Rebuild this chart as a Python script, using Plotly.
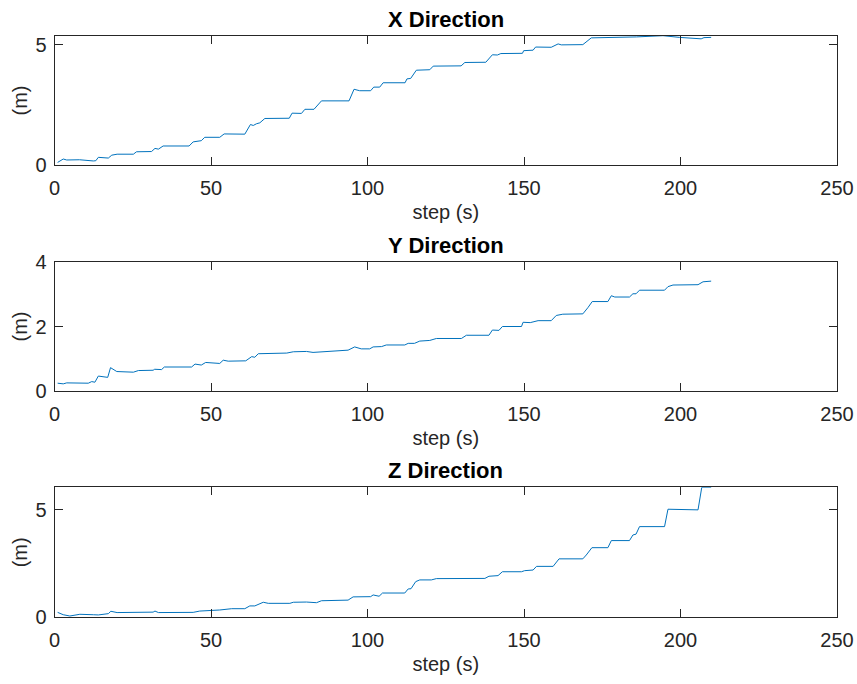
import plotly.graph_objects as go

# ---- data (step index vs. position in metres) ----
x_steps = [1, 2.8, 3.9, 8, 12.4, 13.2, 14, 17.2, 18.3, 20, 25.2, 26.2, 31, 32.1, 33.2, 34.7,
           43, 44.3, 46.9, 48, 52.8, 54.2, 60.8, 62.6, 63.5, 64.5, 65.6, 67.2, 75, 75.9, 78.9,
           80, 82.9, 85.3, 94.1, 95.7, 97.5, 101, 102, 103.9, 105, 112, 112.6, 113.8, 115.6,
           119.9, 121, 129.9, 131.1, 137.8, 139.9, 141.5, 142.6, 149.5, 149.9, 152.9, 153.7,
           158.7, 160.9, 161.9, 168.8, 171.5, 185.9, 194.4, 199.7, 206.6, 207.5, 209.8]
x_vals = [0.12, 0.26, 0.22, 0.23, 0.18, 0.19, 0.33, 0.30, 0.42, 0.46, 0.46, 0.56, 0.57, 0.70, 0.67, 0.80,
          0.80, 0.97, 1.02, 1.16, 1.16, 1.30, 1.29, 1.69, 1.65, 1.72, 1.76, 1.94, 1.95, 2.16, 2.15,
          2.32, 2.32, 2.67, 2.67, 3.15, 3.09, 3.09, 3.24, 3.24, 3.42, 3.42, 3.58, 3.60, 3.94,
          3.96, 4.11, 4.12, 4.26, 4.27, 4.58, 4.57, 4.63, 4.64, 4.75, 4.77, 4.90,
          4.89, 5.03, 4.99, 5.00, 5.28, 5.32, 5.37, 5.30, 5.24, 5.29, 5.30]

y_steps = [1, 2.8, 3.9, 10.8, 11.9, 12.9, 14, 17, 17.9, 19.9, 25.2, 26.8, 31.5, 32, 34.2, 35.1,
           43.8, 44.9, 46.9, 48.3, 52.8, 53.9, 55.5, 61.1, 63, 64, 65.1, 74.2, 76.3, 80.5, 82.6,
           86.8, 93.8, 95.9, 98, 100.7, 101.8, 104.5, 106, 111.9, 113, 115, 116.7, 119.9, 122,
           130, 131.6, 138.8, 139.9, 142, 143.1, 149.2, 149.7, 152, 154.5, 158.7, 160.3, 162.4,
           168.8, 170.4, 171.8, 176.8, 177.9, 179, 183.7, 184.8, 185.8, 186.9, 194.9, 196,
           197.6, 205.6, 207.2, 209.8]
y_vals = [0.25, 0.23, 0.26, 0.25, 0.30, 0.28, 0.47, 0.43, 0.73, 0.61, 0.59, 0.64, 0.65, 0.68, 0.67, 0.75,
          0.75, 0.84, 0.81, 0.89, 0.86, 0.96, 0.93, 0.94, 1.07, 1.05, 1.16, 1.18, 1.22, 1.23, 1.20,
          1.23, 1.27, 1.37, 1.31, 1.31, 1.37, 1.38, 1.43, 1.43, 1.48, 1.48, 1.55, 1.57, 1.63,
          1.63, 1.73, 1.73, 1.89, 1.88, 2.00, 2.00, 2.13, 2.12, 2.18, 2.18, 2.34, 2.38,
          2.39, 2.58, 2.77, 2.77, 2.95, 2.91, 2.91, 3.01, 3.01, 3.12, 3.12, 3.23,
          3.28, 3.29, 3.38, 3.40]

z_steps = [1, 2.8, 4.9, 8.1, 12.4, 14, 17.2, 18, 20, 31.5, 32.1, 33.2, 44.3, 46.4, 52.8, 56.6,
           60.8, 62.4, 64, 65.1, 66.7, 68.3, 75.2, 76.3, 80.5, 83.7, 85.3, 93.8, 95.4, 101,
           101.8, 103.7, 104.8, 111.9, 113, 113.9, 115.4, 116.7, 120.4, 122, 137.5, 138.8,
           141.7, 143.1, 149.2, 150.2, 152.9, 154, 159.3, 161.2, 168.8, 169.9, 171.7, 176.8,
           177.9, 183.7, 184.8, 185.8, 186.9, 194.9, 196, 205.6, 206.8, 209.8]
z_vals = [0.23, 0.12, 0.06, 0.14, 0.12, 0.11, 0.17, 0.28, 0.22, 0.24, 0.29, 0.22, 0.23, 0.29, 0.34, 0.40,
          0.40, 0.53, 0.53, 0.60, 0.70, 0.65, 0.65, 0.70, 0.71, 0.68, 0.77, 0.80, 0.95, 0.96,
          1.04, 0.98, 1.13, 1.13, 1.32, 1.33, 1.66, 1.74, 1.74, 1.80, 1.81, 1.91,
          1.94, 2.12, 2.12, 2.17, 2.20, 2.37, 2.37, 2.72, 2.72, 2.90, 3.24, 3.24,
          3.57, 3.57, 3.83, 3.87, 4.22, 4.22, 5.03, 5.00, 6.05, 6.05]

titles = ["X Direction", "Y Direction", "Z Direction"]
x_ticks = [0, 50, 100, 150, 200, 250]
y_ticks = [[0, 5], [0, 2, 4], [0, 5]]
y_ranges = [[0, 5.37], [0, 4], [0, 6.05]]
x_label = "step (s)"
y_label = "(m)"

# ---- layout geometry ----
W, H = 857, 684
x_dom = [54.5 / W, 837 / W]
tops = [35.7, 261.7, 487.3]
bots = [165.3, 391.3, 617.3]
y_doms = [[1 - b / H, 1 - t / H] for t, b in zip(tops, bots)]

FONT = "Liberation Sans, Arial, Helvetica, sans-serif"
AXC = "#262626"
LINEC = "rgb(0,114,189)"

fig = go.Figure()
series = [(x_steps, x_vals), (y_steps, y_vals), (z_steps, z_vals)]
annotations = []
for i, (sx, sv) in enumerate(series):
    n = "" if i == 0 else str(i + 1)
    fig.add_trace(go.Scatter(x=sx, y=sv, mode="lines",
                             line=dict(color=LINEC, width=1),
                             xaxis="x" + n, yaxis="y" + n, showlegend=False))
    common = dict(showline=True, linecolor=AXC, linewidth=1, mirror="ticks",
                  ticks="inside", ticklen=8, tickwidth=1, tickcolor=AXC,
                  showgrid=False, zeroline=False, automargin=False,
                  tickfont=dict(family=FONT, size=20, color=AXC))
    fig.layout["xaxis" + n] = dict(domain=x_dom, range=[0, 250], tickvals=x_ticks,
                                   anchor="y" + n, ticklabelstandoff=5,
                                   title=dict(text=x_label, font=dict(family=FONT, size=20, color=AXC),
                                              standoff=6),
                                   **common)
    fig.layout["yaxis" + n] = dict(domain=y_doms[i], range=y_ranges[i], tickvals=y_ticks[i],
                                   anchor="x" + n, ticklabelstandoff=3,
                                   title=dict(text=y_label, font=dict(family=FONT, size=20, color=AXC),
                                              standoff=2),
                                   **common)
    annotations.append(dict(text="<b>" + titles[i] + "</b>", x=(x_dom[0] + x_dom[1]) / 2,
                            y=y_doms[i][1], xref="paper", yref="paper",
                            xanchor="center", yanchor="middle", yshift=16.5, showarrow=False,
                            font=dict(family=FONT, size=22, color="black")))

fig.update_layout(width=W, height=H, margin=dict(l=0, r=0, t=0, b=0),
                  paper_bgcolor="white", plot_bgcolor="white",
                  annotations=annotations)

fig.write_html("out.html")
